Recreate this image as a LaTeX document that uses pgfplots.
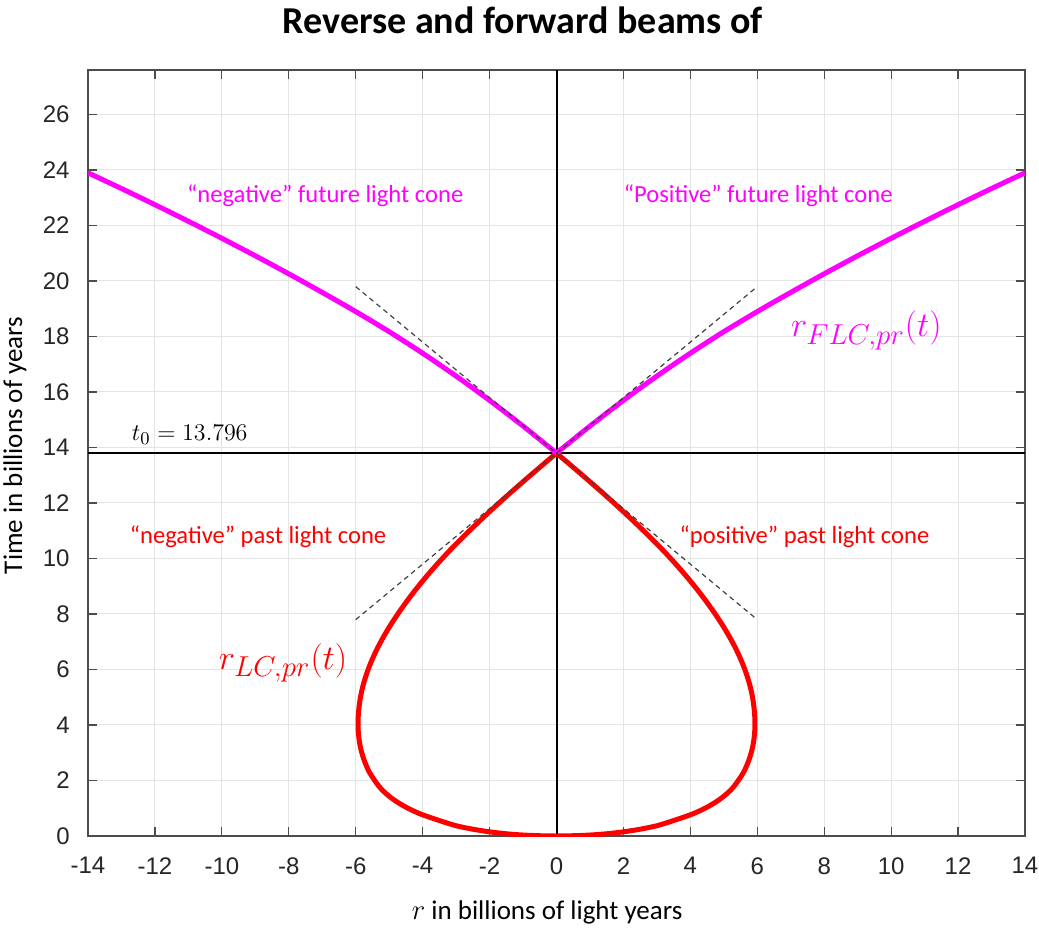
\documentclass[border=0pt]{standalone}
\usepackage{fontspec}
\setmainfont{Carlito}
\newfontfamily\tickfont{Liberation Sans}
\usepackage{pgfplots}
\pgfplotsset{compat=1.18}
\usetikzlibrary{calc}
\definecolor{mag}{RGB}{255,0,255}
\definecolor{rd}{RGB}{255,0,0}
\begin{document}
\begin{tikzpicture}
\begin{axis}[
  scale only axis, width=468.5pt, height=383pt,
  xmin=-14, xmax=14, ymin=0, ymax=27.6,
  xtick={-14,-12,...,14}, ytick={0,2,...,26},
  grid=major, grid style={draw=black!10, line width=0.5pt},
  axis line style={draw=black!70, line width=0.6pt},
  tick style={draw=black!70, line width=0.6pt},
  tick align=inside, major tick length=4.5pt,
  ticklabel style={font=\tickfont\fontsize{12}{14}\selectfont, text=black!85, inner sep=0pt},
  /pgf/number format/assume math mode=true,
  xticklabel style={yshift=-10.5pt},
  yticklabel style={xshift=-9pt},
  xlabel={$r$ in billions of light years},
  ylabel={Time in billions of years},
  label style={font=\fontsize{13.5}{16}\selectfont},
  xlabel style={at={(axis description cs:0.49,-0.1084)}, anchor=base, inner sep=0pt},
  ylabel style={at={(axis description cs:-0.0907,0.51)}, anchor=north, inner sep=0pt},
  title={Reverse and forward beams of},
  title style={at={(axis description cs:0.464,1.0326)}, anchor=base, inner sep=0pt, font=\bfseries\fontsize{19}{22}\selectfont},
]
% axes lines
\addplot[black, line width=1pt] coordinates {(0,0) (0,27.6)};
\addplot[black, line width=1pt] coordinates {(-14,13.796) (14,13.796)};
% past light cone
\addplot[rd, line width=2.5pt, smooth, line join=round] coordinates {
(0,13.796) (-0.488,13.296) (-0.970,12.796) (-1.443,12.296) (-1.901,11.796) (-2.344,11.296) (-2.773,10.796) (-3.182,10.296) (-3.566,9.796) (-3.925,9.296) (-4.26,8.796) (-4.57,8.296) (-4.856,7.796) (-5.112,7.296) (-5.339,6.796) (-5.531,6.296) (-5.688,5.796) (-5.807,5.296) (-5.885,4.796) (-5.925,4.296) (-5.925,3.796) (-5.876,3.296) (-5.767,2.796) (-5.59,2.296) (-5.31,1.796) (-5.11,1.546) (-4.85,1.296) (-4.51,1.046) (-4.07,0.796) (-3.47,0.546) (-3,0.37) (-2.5,0.245) (-2,0.15) (-1.5,0.08) (-1,0.035) (-0.5,0.01) (0,0)
(0.5,0.01) (1,0.035) (1.5,0.08) (2,0.15) (2.5,0.245) (3,0.37) (3.47,0.546) (4.07,0.796) (4.51,1.046) (4.85,1.296) (5.11,1.546) (5.31,1.796) (5.59,2.296) (5.767,2.796) (5.876,3.296) (5.925,3.796) (5.925,4.296) (5.885,4.796) (5.807,5.296) (5.688,5.796) (5.531,6.296) (5.339,6.796) (5.112,7.296) (4.856,7.796) (4.57,8.296) (4.26,8.796) (3.925,9.296) (3.566,9.796) (3.182,10.296) (2.773,10.796) (2.344,11.296) (1.901,11.796) (1.443,12.296) (0.970,12.796) (0.488,13.296) (0,13.796)};
% future light cone
\addplot[mag, line width=2.5pt, smooth] coordinates {
(0,13.796) (1,14.771) (2,15.696) (3,16.571) (4,17.396) (5,18.171) (6,18.896) (7,19.586) (8,20.256) (9,20.906) (10,21.536) (11,22.149) (12,22.746) (13,23.329) (14,23.896)};
\addplot[mag, line width=2.5pt, smooth] coordinates {
(0,13.796) (-1,14.771) (-2,15.696) (-3,16.571) (-4,17.396) (-5,18.171) (-6,18.896) (-7,19.586) (-8,20.256) (-9,20.906) (-10,21.536) (-11,22.149) (-12,22.746) (-13,23.329) (-14,23.896)};
% tangent lines
\addplot[black!75, line width=0.6pt, dash pattern=on 2.5pt off 2pt] coordinates {(-6,7.796) (6,19.796)};
\addplot[black!75, line width=0.6pt, dash pattern=on 2.5pt off 2pt] coordinates {(-6,19.796) (6,7.796)};
% annotations
\node[anchor=west, text=mag, font=\fontsize{12.3}{15}\selectfont, inner sep=0pt] at (axis cs:-11.05,23.08) {“negative” future light cone};
\node[anchor=west, text=mag, font=\fontsize{12.3}{15}\selectfont, inner sep=0pt] at (axis cs:2.0,23.08) {“Positive” future light cone};
\node[anchor=west, text=rd, font=\fontsize{12.3}{15}\selectfont, inner sep=0pt] at (axis cs:-12.76,10.79) {“negative” past light cone};
\node[anchor=west, text=rd, font=\fontsize{12.3}{15}\selectfont, inner sep=0pt] at (axis cs:3.67,10.79) {“positive” past light cone};
\node[anchor=west, font=\fontsize{13}{15}\selectfont, inner sep=0pt] at (axis cs:-12.7,14.45) {$t_0 = 13.796$};
\node[anchor=west, text=rd, font=\fontsize{19}{22}\selectfont, inner sep=0pt] at (axis cs:-10.1,6.24) {$r_{LC,pr}(t)$};
\node[anchor=west, text=mag, font=\fontsize{19}{22}\selectfont, inner sep=0pt] at (axis cs:7.0,18.23) {$r_{FLC,pr}(t)$};
\end{axis}
\path ($(current axis.south west)+(-44pt,-46pt)$) rectangle ($(current axis.north east)+(7pt,35pt)$);
\end{tikzpicture}
\end{document}
